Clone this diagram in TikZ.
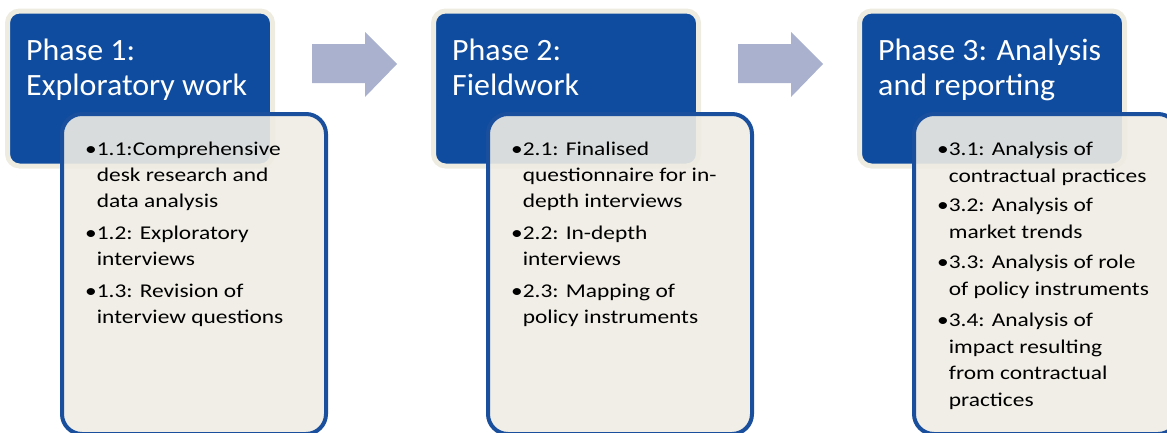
\documentclass[tikz,border=0pt]{standalone}
\usepackage{fontspec}
\setmainfont{Carlito}
\newfontfamily\bodyfont[FakeStretch=1.2]{Carlito}
\newfontfamily\headfont[FakeStretch=1.03]{Carlito}
\definecolor{hdrblue}{HTML}{0F4C9F}
\definecolor{edgeblue}{HTML}{1A4F9E}
\definecolor{paper}{HTML}{EEECE3}
\definecolor{rim}{HTML}{EEECE1}
\definecolor{arrowc}{HTML}{A9B1CE}
\tikzset{
  header/.style={rectangle, rounded corners=12pt, fill=hdrblue, draw=rim, line width=5pt,
    minimum width=265pt, minimum height=155pt, inner sep=0pt},
  detail/.style={rectangle, rounded corners=20pt, fill=paper, fill opacity=0.9, draw=edgeblue,
    line width=4pt, minimum width=264pt, minimum height=320pt, inner sep=0pt},
  htext/.style={anchor=base west, align=left, text=white, inner sep=0pt,
    font=\headfont\fontsize{31}{35}\selectfont},
  itext/.style={anchor=base west, align=left, text=black, inner sep=0pt,
    font=\bodyfont\fontsize{19.5}{26}\selectfont},
  itextb/.style={itext, font=\bodyfont\fontsize{19.5}{26.5}\selectfont},
  bigarrow/.style={fill=arrowc, draw=none}
}
\newcommand{\ind}{\hphantom{•}}
\begin{document}
\begin{tikzpicture}[x=1pt,y=-1pt]
\useasboundingbox (0,0) rectangle (1167,432);
\clip (0,0) rectangle (1167,432);
% Phase 1
\node[header] (h1) at (140,88.5) {};
\node[htext] (t1) at (26,95) {Phase 1:\\Exploratory work};
\node[detail] (d1) at (194,274) {};
\node[itext] (i11) at (85,207) {•1.1:Comprehensive\\\ind desk research and\\\ind data analysis};
\node[itext] (i12) at (85,265) {•1.2: Exploratory\\\ind interviews};
\node[itext] (i13) at (85,323) {•1.3: Revision of\\\ind interview questions};
% arrow 1
\fill[bigarrow] (312,44) -- (365,44) -- (365,32) -- (397,64) -- (365,97) -- (365,83) -- (312,83) -- cycle;
% Phase 2
\node[header] (h2) at (566,88.5) {};
\node[htext] (t2) at (452,95) {Phase 2:\\Fieldwork};
\node[detail] (d2) at (620,274) {};
\node[itext] (i21) at (511,207) {•2.1: Finalised\\\ind questionnaire for in-\\\ind depth interviews};
\node[itext] (i22) at (511,265) {•2.2: In-depth\\\ind interviews};
\node[itext] (i23) at (511,323) {•2.3: Mapping of\\\ind policy instruments};
% arrow 2
\fill[bigarrow] (738,44) -- (791,44) -- (791,32) -- (823,64) -- (791,97) -- (791,83) -- (738,83) -- cycle;
% Phase 3
\node[header] (h3) at (992,88.5) {};
\node[htext] (t3) at (878,95) {Phase 3: Analysis\\and reporting};
\node[detail] (d3) at (1046,274) {};
\node[itextb] (i31) at (937,182) {•3.1: Analysis of\\\ind contractual practices};
\node[itextb] (i32) at (937,238) {•3.2: Analysis of\\\ind market trends};
\node[itextb] (i33) at (937,295) {•3.3: Analysis of role\\\ind of policy instruments};
\node[itextb] (i34) at (937,406) {•3.4: Analysis of\\\ind impact resulting\\\ind from contractual\\\ind practices};
\end{tikzpicture}
\end{document}
